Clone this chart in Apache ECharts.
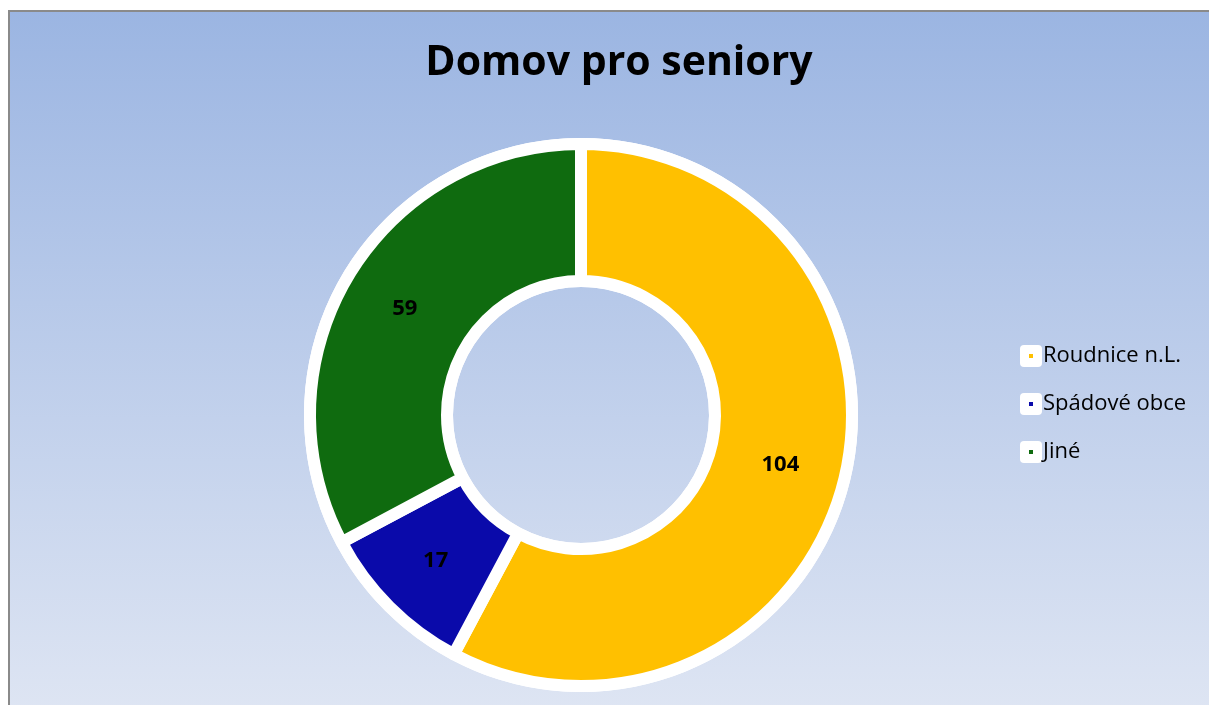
<!DOCTYPE html>
<html>
<head>
<meta charset="utf-8">
<script src="https://cdn.jsdelivr.net/npm/echarts@6/dist/echarts.min.js"></script>
<style>
  html, body { margin: 0; padding: 0; background: #fff; }
  #chart { width: 1209px; height: 705px; }
</style>
</head>
<body>
<div id="chart"></div>
<script>
var titleText = "Domov pro seniory";
var categories = ["Roudnice n.L.", "Spádové obce", "Jiné"];
var values = [104, 17, 59];
var colors = ["#FFC000", "#0A0AAA", "#0F6B0F"];

// ikona legendy: bílý čtverec s malým barevným čtverečkem
function legendIcon(color) {
    var svg = '<svg xmlns="http://www.w3.org/2000/svg" width="22" height="22">' +
        '<rect x="0" y="0" width="22" height="22" rx="4" ry="4" fill="#ffffff"/>' +
        '<rect x="9" y="9" width="4" height="4" fill="' + color + '"/></svg>';
    return 'image://data:image/svg+xml;charset=utf-8,' + encodeURIComponent(svg);
}

var chart = echarts.init(document.getElementById("chart"));

var pieData = categories.map(function (name, i) {
    return { name: name, value: values[i], itemStyle: { color: colors[i] } };
});

var center = [581, 415];

var option = {
    animation: false,
    graphic: [{
        type: "rect",
        z: -10,
        shape: { x: 9, y: 11, width: 1210, height: 700 },
        style: {
            fill: new echarts.graphic.LinearGradient(0, 0, 0, 1, [
                { offset: 0, color: "#9BB5E2" },
                { offset: 1, color: "#DEE5F3" }
            ]),
            stroke: "#8A8A8A",
            lineWidth: 2
        }
    }],
    title: {
        text: titleText,
        left: 614,
        top: 38,
        textAlign: "center",
        textStyle: { fontFamily: "Open Sans", fontWeight: "bold", fontSize: 41, color: "#000" }
    },
    legend: {
        orient: "vertical",
        left: 1015,
        top: 340,
        itemWidth: 22,
        itemHeight: 22,
        itemGap: 26,
        data: categories.map(function (name, i) {
            return { name: name, icon: legendIcon(colors[i]) };
        }),
        textStyle: { fontFamily: "Open Sans", fontSize: 22, color: "#000", padding: [0, 0, 0, -4] }
    },
    series: [{
        type: "pie",
        silent: true,
        center: center,
        radius: [128, 277],
        z: 1,
        label: { show: false },
        data: [{ value: 1, itemStyle: { color: "#fff" } }]
    }, {
        type: "pie",
        center: center,
        radius: [134, 271],
        startAngle: 90,
        clockwise: true,
        z: 2,
        itemStyle: { borderColor: "#fff", borderWidth: 12 },
        label: {
            show: true,
            position: "inside",
            formatter: "{c}",
            fontFamily: "Open Sans",
            fontWeight: "bold",
            fontSize: 22,
            color: "#000"
        },
        labelLine: { show: false },
        data: pieData
    }]
};

chart.setOption(option);
</script>
</body>
</html>
